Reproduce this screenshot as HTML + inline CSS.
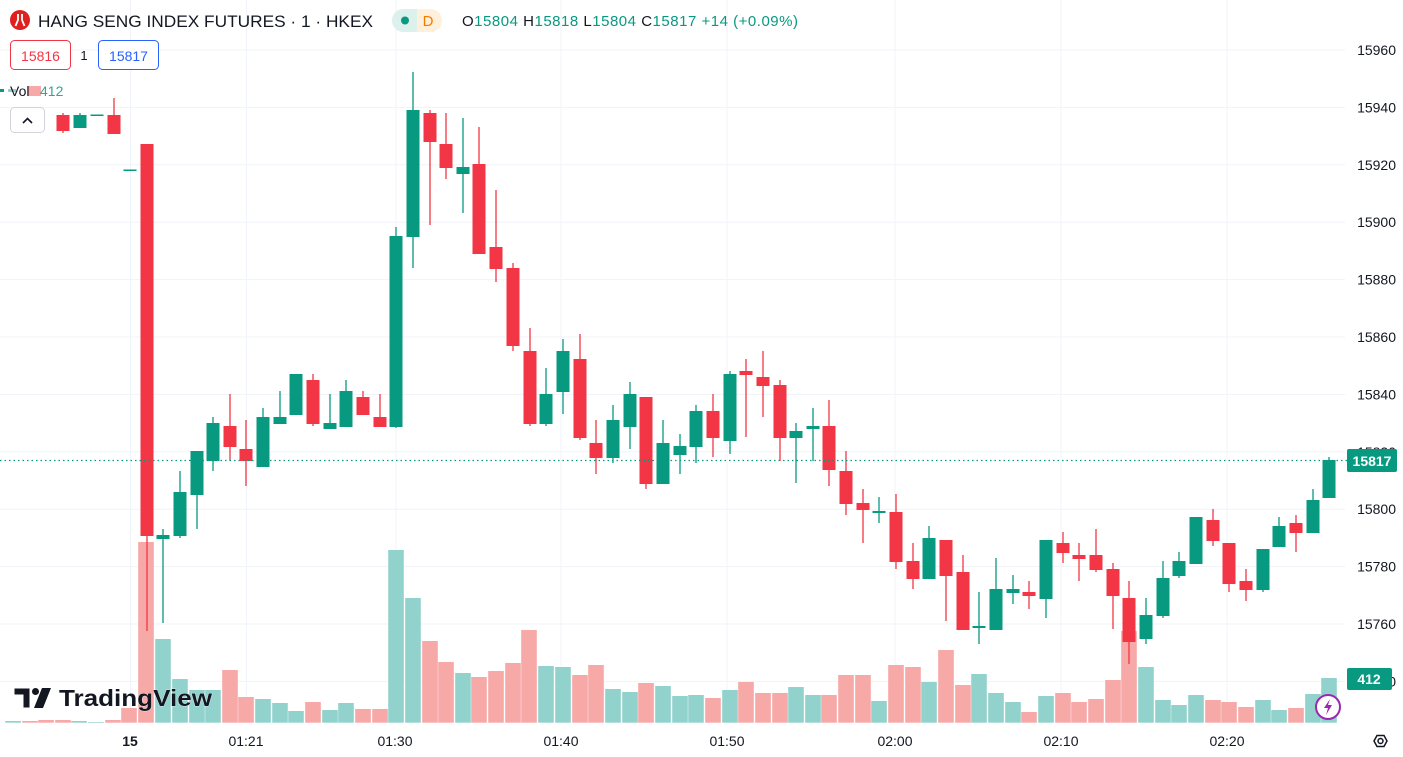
<!DOCTYPE html>
<html><head><meta charset="utf-8"><style>
html,body{margin:0;padding:0;background:#fff;width:1403px;height:757px;overflow:hidden;font-family:"Liberation Sans",sans-serif;}
svg{position:absolute;left:0;top:0}
</style></head><body>
<svg id="s" width="1403" height="757" xmlns="http://www.w3.org/2000/svg"></svg>
<script>
const NS="http://www.w3.org/2000/svg";const s=document.getElementById('s');
function el(t,a,txt){const e=document.createElementNS(NS,t);for(const k in a)e.setAttribute(k,a[k]);if(txt!==undefined)e.textContent=txt;s.appendChild(e);return e;}
const G="#089981",R="#F23645",VG="#92d2cc",VR="#f7a9a7";
for(let i=0;i<12;i++){const y=50+i*57.4;el('line',{x1:0,x2:1345,y1:y,y2:y,stroke:'#f0f3fa','stroke-width':1});}
[130.5,246.5,396,561,727,895,1061,1227].forEach(x=>el('line',{x1:x,x2:x,y1:0,y2:722,stroke:'#f0f3fa','stroke-width':1}));
const vol=[[13,'g',721],[30,'r',721],[46,'r',720],[63,'r',720],[79,'g',721],[96,'g',722],[113,'r',720],[129,'r',708],
[146,'r',542],[163,'g',639],[180,'g',679],[197,'g',690],[213,'g',690],[230,'r',670],[246,'r',697],[263,'g',699],[280,'g',703],[296,'g',711],[313,'r',702],[330,'g',710],[346,'g',703],[363,'r',709],[380,'r',709],[396,'g',550],[413,'g',598],[430,'r',641],[446,'r',662],[463,'g',673],[479,'r',677],[496,'r',671],[513,'r',663],[529,'r',630],[546,'g',666],[563,'g',667],[580,'r',675],[596,'r',665],[613,'g',689],[630,'g',692],[646,'r',683],[663,'g',686],[680,'g',696],[696,'g',695],
[713,'r',698],[730,'g',690],[746,'r',682],[763,'r',693],[780,'r',693],[796,'g',687],[813,'g',695],[829,'r',695],[846,'r',675],[863,'r',675],[879,'g',701],[896,'r',665],[913,'r',667],[929,'g',682],[946,'r',650],[963,'r',685],[979,'g',674],[996,'g',693],[1013,'g',702],[1029,'r',712],[1046,'g',696],[1063,'r',693],[1079,'r',702],[1096,'r',699],[1113,'r',680],[1129,'r',631],[1146,'g',667],[1163,'g',700],[1179,'g',705],[1196,'g',695],[1213,'r',700],[1229,'r',702],[1246,'r',707],[1263,'g',700],[1279,'g',710],[1296,'r',708],[1313,'g',694],[1329,'g',678]];
vol.forEach(v=>el('rect',{x:v[0]-7.8,y:v[2],width:15.6,height:722.7-v[2],fill:v[1]=='g'?VG:VR}));
const C=[[63,'r',115,131,113,133],[80,'g',115,128,113,128],[97,'g',114.5,116,114.5,116],[114,'r',115,134,98,134],[130,'g',169.5,171,169.5,171],
[147,'r',144,536,144,631],[163,'g',535,539,529,623],[180,'g',492,536,471,538],[197,'g',451,495,451,529],[213,'g',423,461,417,471],[230,'r',426,447,394,461],[246,'r',449,461,420,486],[263,'g',417,467,408,467],[280,'g',417,424,391,424],[296,'g',374,415,374,415],[313,'r',380,424,374,426],[330,'g',423,429,394,429],[346,'g',391,427,380,427],[363,'r',397,415,391,415],[380,'r',417,427,394,427],[396,'g',236,427,227,428],[413,'g',110,237,72,268],[430,'r',113,142,110,225],[446,'r',144,168,113,179],[463,'g',167,174,118,213],[479,'r',164,254,127,254],[496,'r',247,269,190,282],
[513,'r',268,346,263,351],[530,'r',351,424,328,426],[546,'g',394,424,368,426],[563,'g',351,392,339,414],[580,'r',359,438,334,440],[596,'r',443,458,420,474],[613,'g',420,458,405,463],[630,'g',394,427,382,449],[646,'r',397,484,397,489],[663,'g',443,484,420,484],[680,'g',446,455,434,474],[696,'g',411,447,405,463],[713,'r',411,438,394,457],[730,'g',374,441,371,454],[746,'r',371,375,359,437],[763,'r',377,386,351,417],[780,'r',385,438,380,461],[796,'g',431,438,423,483],[813,'g',426,429,408,461],[829,'r',426,470,400,486],[846,'r',471,504,451,515],[863,'r',503,510,489,543],[879,'g',511,513,497,523],
[896,'r',512,562,494,569],[913,'r',561,579,543,589],[929,'g',538,579,526,579],[946,'r',540,576,540,621],[963,'r',572,630,555,630],[979,'g',626,628,592,644],[996,'g',589,630,558,630],[1013,'g',589,593,575,604],[1029,'r',592,596,581,609],[1046,'g',540,599,540,618],[1063,'r',543,553,532,563],[1079,'r',555,559,543,581],[1096,'r',555,570,529,572],[1113,'r',569,596,563,629],[1129,'r',598,642,581,664],[1146,'g',615,639,598,644],[1163,'g',578,616,561,618],[1179,'g',561,576,552,578],[1196,'g',517,564,517,564],[1213,'r',520,541,509,546],[1229,'r',543,584,543,592],[1246,'r',581,590,569,601],[1263,'g',549,590,549,592],[1279,'g',526,547,517,547],[1296,'r',523,533,515,552],[1313,'g',500,533,489,533],[1329,'g',460,498,457,498]];
C.forEach(c=>{const col=c[1]=='g'?G:R;
el('line',{x1:c[0],x2:c[0],y1:c[4],y2:c[5],stroke:col,'stroke-width':1.3});
el('rect',{x:c[0]-6.5,y:c[2],width:13,height:Math.max(1.5,c[3]-c[2]),fill:col});});
el('line',{x1:0,x2:1347,y1:460.5,y2:460.5,stroke:G,'stroke-width':1.2,'stroke-dasharray':'1.5 3'});
const P=[15960,15940,15920,15900,15880,15860,15840,15820,15800,15780,15760,15740];
P.forEach((p,i)=>el('text',{x:1396,y:50+i*57.4+5,'text-anchor':'end','font-size':14,fill:'#131722'},String(p)));
el('rect',{x:1347,y:449,width:50,height:23,fill:G,rx:2});
el('text',{x:1372,y:466,'text-anchor':'middle','font-size':14,fill:'#fff','font-weight':'bold'},'15817');
el('rect',{x:1347,y:668,width:45,height:22,fill:G,rx:2});
el('text',{x:1369,y:684,'text-anchor':'middle','font-size':14,fill:'#fff','font-weight':'bold'},'412');
el('text',{x:130,y:746,'text-anchor':'middle','font-size':14,fill:'#131722','font-weight':'bold'},'15');
[[246,'01:21'],[395,'01:30'],[561,'01:40'],[727,'01:50'],[895,'02:00'],[1061,'02:10'],[1227,'02:20']].forEach(t=>el('text',{x:t[0],y:746,'text-anchor':'middle','font-size':14,fill:'#131722'},t[1]));
el('polygon',{points:'1374,741 1377,735.5 1384,735.5 1387,741 1384,746.5 1377,746.5',fill:'none',stroke:'#131722','stroke-width':1.5});
el('circle',{cx:1380.5,cy:741,r:2.5,fill:'none',stroke:'#131722','stroke-width':1.5});
el('circle',{cx:1328,cy:707,r:12,fill:'#fff',stroke:'#9c27b0','stroke-width':2});
el('path',{d:'M1330 699 L1324 708 L1328 708 L1326 715 L1332 705 L1328 705 Z',fill:'#9c27b0'});
el('path',{d:'M14 688 H30 V708 H23 V695 H14 Z',fill:'#131722',stroke:'#fff','stroke-width':1});
el('circle',{cx:35.5,cy:691.5,r:3.5,fill:'#131722'});
el('path',{d:'M42 688 H51 L43 708 H34 Z',fill:'#131722'});
el('text',{x:59,y:706,'font-size':23,'font-weight':'bold',fill:'#131722',stroke:'#fff','stroke-width':0.6,'paint-order':'stroke',textLength:153,lengthAdjust:'spacingAndGlyphs'},'TradingView');
el('circle',{cx:20,cy:20,r:10,fill:'#e0201f'});
el('path',{d:'M18 14 V20 L15.5 26 M22 14 V20 L24.5 26',stroke:'#fff','stroke-width':1.8,fill:'none'});
el('text',{x:38,y:27,'font-size':17,fill:'#131722',textLength:335,lengthAdjust:'spacingAndGlyphs'},'HANG SENG INDEX FUTURES · 1 · HKEX');
el('rect',{x:392,y:9,width:50,height:23,rx:11.5,fill:'#fff0dc'});
el('path',{d:'M403.5 9 H417 V32 H403.5 A11.5 11.5 0 0 1 403.5 9 Z',fill:'#dcf1ec'});
el('circle',{cx:405,cy:20.5,r:4,fill:G});
el('text',{x:428,y:26,'text-anchor':'middle','font-size':15,fill:'#f57c00'},'D');
const oh=el('text',{x:462,y:26,'font-size':15,fill:'#131722',textLength:336,lengthAdjust:'spacing'});
oh.innerHTML='O<tspan fill="#089981">15804</tspan> H<tspan fill="#089981">15818</tspan> L<tspan fill="#089981">15804</tspan> C<tspan fill="#089981">15817</tspan> <tspan fill="#089981">+14 (+0.09%)</tspan>';
el('rect',{x:10.5,y:40.5,width:60,height:29,rx:4,fill:'#fff',stroke:R});
el('text',{x:40.5,y:61,'text-anchor':'middle','font-size':14,fill:R},'15816');
el('text',{x:84,y:60,'text-anchor':'middle','font-size':13,fill:'#131722'},'1');
el('rect',{x:98.5,y:40.5,width:60,height:29,rx:4,fill:'#fff',stroke:'#2962ff'});
el('text',{x:128.5,y:61,'text-anchor':'middle','font-size':14,fill:'#2962ff'},'15817');
el('rect',{x:0,y:89,width:4,height:3,fill:G});el('rect',{x:8,y:89,width:8,height:3,fill:VG});
el('rect',{x:28,y:86,width:13,height:10,fill:VR});
el('text',{x:10,y:96,'font-size':14,fill:'#131722'},'Vol');
el('text',{x:40,y:96,'font-size':14,fill:G,opacity:0.85},'412');
el('rect',{x:10.5,y:107.5,width:34,height:25,rx:4,fill:'#fff',stroke:'#d1d4dc'});
el('path',{d:'M23 123 L27.5 118.5 L32 123',stroke:'#131722','stroke-width':1.6,fill:'none'});
</script>
</body></html>
